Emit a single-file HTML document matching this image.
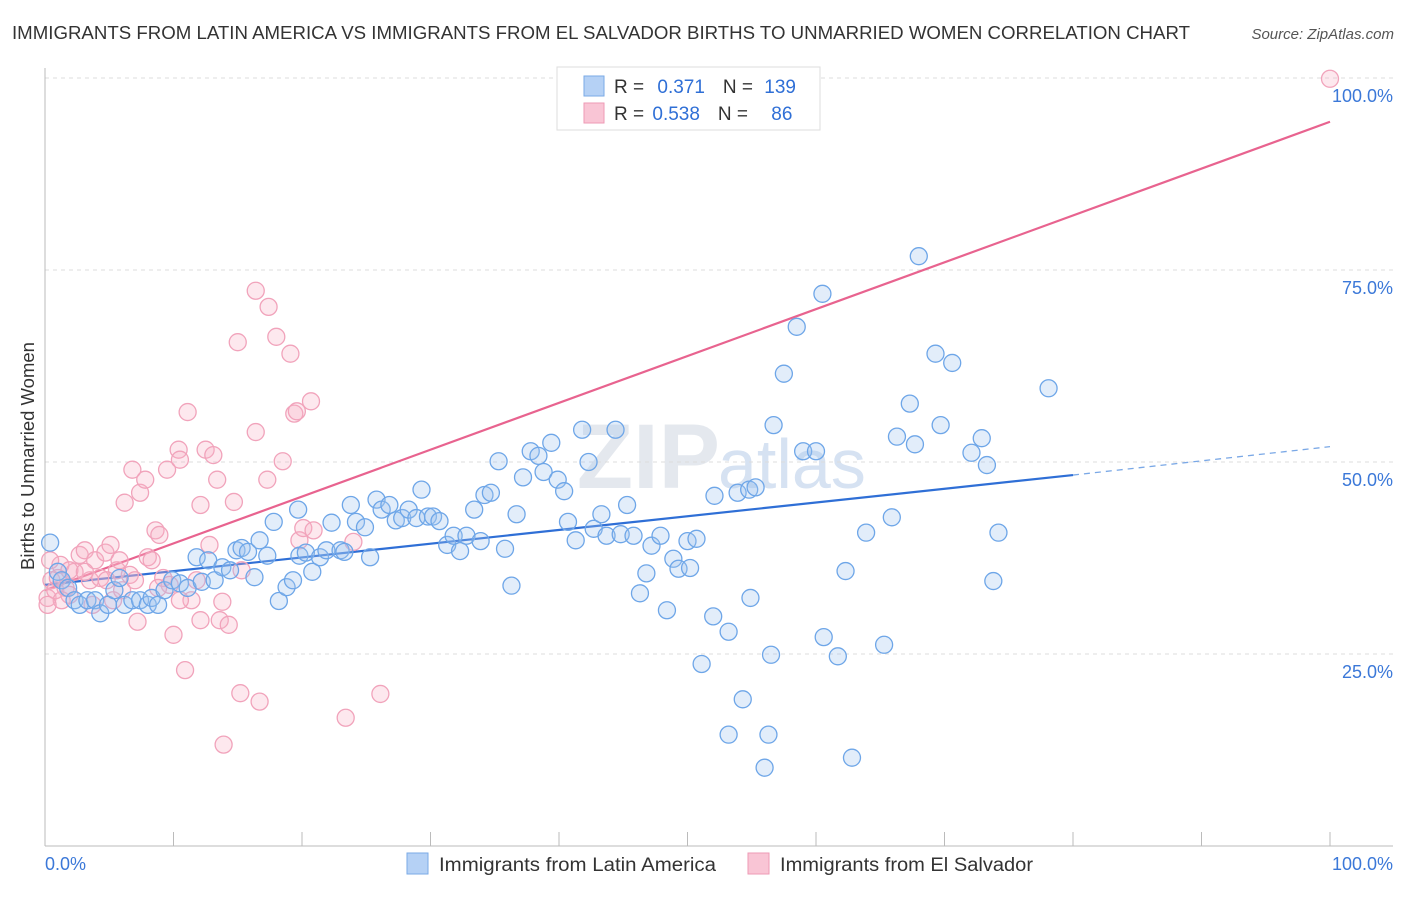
<!DOCTYPE html>
<html><head><meta charset="utf-8">
<style>
body{margin:0;background:#fff;font-family:"Liberation Sans",sans-serif;}
svg text{font-family:"Liberation Sans",sans-serif;}
</style></head>
<body>
<svg id="chart" width="1406" height="892" viewBox="0 0 1406 892">
<text x="12" y="39" font-size="18" fill="#333" textLength="1178" lengthAdjust="spacingAndGlyphs">IMMIGRANTS FROM LATIN AMERICA VS IMMIGRANTS FROM EL SALVADOR BIRTHS TO UNMARRIED WOMEN CORRELATION CHART</text>
<text x="1394" y="39" font-size="15" fill="#555" font-style="italic" text-anchor="end">Source: ZipAtlas.com</text>
<text transform="translate(34,456) rotate(-90)" font-size="18.5" fill="#333" text-anchor="middle">Births to Unmarried Women</text>
<text x="720" y="488" font-size="92" fill="#e4e8ee" text-anchor="end" font-family="Liberation Serif" font-weight="bold">ZIP</text>
<text x="718" y="488" font-size="70" fill="#d6e2f2">atlas</text>
<g id="grid"></g>
<g id="axes"></g>
<g id="lines"></g>
<g id="points"></g>
<g>
<rect x="557" y="67" width="263" height="63" fill="#fff" stroke="#ddd"/>
<rect x="584" y="76" width="20" height="20" fill="#b5d1f5" stroke="#7aaae6"/>
<rect x="584" y="103" width="20" height="20" fill="#f9c5d5" stroke="#ee9ab5"/>
<text x="614" y="93" font-size="19" fill="#333">R = <tspan fill="#2f6fd6" dx="8">0.371</tspan><tspan dx="18">N = </tspan><tspan fill="#2f6fd6" dx="6">139</tspan></text>
<text x="614" y="120" font-size="19" fill="#333">R = <tspan fill="#2f6fd6" dx="3">0.538</tspan><tspan dx="18">N = </tspan><tspan fill="#2f6fd6" dx="18">86</tspan></text>
</g>
<g>
<rect x="407" y="853" width="21" height="21" fill="#b5d1f5" stroke="#7aaae6"/>
<text x="439" y="871" font-size="19" fill="#333" textLength="277" lengthAdjust="spacingAndGlyphs">Immigrants from Latin America</text>
<rect x="748" y="853" width="21" height="21" fill="#f9c5d5" stroke="#ee9ab5"/>
<text x="780" y="871" font-size="19" fill="#333" textLength="253" lengthAdjust="spacingAndGlyphs">Immigrants from El Salvador</text>
</g>
</svg>
<script>
const blueX=[0.4,1.0,1.3,1.8,2.3,2.7,3.3,3.9,4.3,4.9,5.4,5.8,6.2,6.8,7.4,8.0,8.3,8.8,9.3,9.9,10.5,11.1,11.8,12.2,12.7,13.2,13.8,14.4,14.9,15.3,15.8,16.3,16.7,17.3,17.8,18.2,18.8,19.3,19.7,19.8,20.3,20.8,21.4,21.9,22.3,23.0,23.3,23.8,24.2,24.9,25.3,25.8,26.2,26.8,27.3,27.8,28.3,28.9,29.3,29.8,30.2,30.7,31.3,31.8,32.3,32.8,33.4,33.9,34.2,34.7,35.3,35.8,36.3,36.7,37.2,37.8,38.4,38.8,39.4,39.9,40.4,40.7,41.3,41.8,42.3,42.7,43.3,43.7,44.4,44.8,45.3,45.8,46.3,46.8,47.2,47.9,48.4,48.9,49.3,50.0,50.2,50.7,51.1,52.0,52.1,53.2,53.9,54.3,54.8,55.3,54.9,56.3,56.5,57.5,56.7,58.5,59.0,60.0,60.5,60.6,61.7,62.3,62.8,63.9,65.3,65.9,66.3,67.3,67.7,68.0,69.3,69.7,70.6,72.1,72.9,73.3,73.8,74.2,78.1,56.0,53.2];
const blueY=[39.5,35.7,34.6,33.6,32.0,31.4,32.0,32.0,30.3,31.4,33.3,34.9,31.4,32.0,32.0,31.4,32.3,31.4,33.3,34.6,34.2,33.6,37.6,34.4,37.2,34.6,36.3,35.9,38.5,38.8,38.3,35.0,39.8,37.8,42.2,31.9,33.7,34.6,43.8,37.8,38.2,35.7,37.6,38.5,42.1,38.5,38.3,44.4,42.2,41.5,37.6,45.1,43.8,44.4,42.4,42.7,43.8,42.7,46.4,42.9,42.9,42.3,39.2,40.4,38.4,40.4,43.8,39.7,45.7,46.0,50.1,38.7,33.9,43.2,48.0,51.4,50.8,48.7,52.5,47.7,46.2,42.2,39.8,54.2,50.0,41.3,43.2,40.4,54.2,40.6,44.4,40.4,32.9,35.5,39.1,40.4,30.7,37.4,36.1,39.7,36.2,40.0,23.7,29.9,45.6,27.9,46.0,19.1,46.4,46.7,32.3,14.5,24.9,61.5,54.8,67.6,51.4,51.4,71.9,27.2,24.7,35.8,11.5,40.8,26.2,42.8,53.3,57.6,52.3,76.8,64.1,54.8,62.9,51.2,53.1,49.6,34.5,40.8,59.6,10.2,14.5];
const pinkX=[0.2,0.5,0.8,1.2,1.6,1.9,2.3,2.7,3.1,3.5,3.9,4.3,4.7,5.1,5.3,5.6,5.8,6.2,6.6,6.8,7.2,7.4,7.8,8.0,8.3,8.6,8.9,9.2,9.5,9.7,10.0,10.4,10.5,10.9,11.1,11.4,11.8,12.1,12.5,12.8,13.1,13.4,13.6,13.8,13.9,14.3,14.7,15.0,15.2,15.3,16.4,16.4,16.7,17.3,17.4,18.0,18.5,19.1,19.4,19.6,19.8,20.1,20.7,20.9,23.4,24.0,26.1,100,0.4,1.0,1.3,1.9,3.1,3.7,4.8,6.0,7.0,8.8,10.5,12.1,0.2];
const pinkY=[32.3,34.6,33.3,36.6,33.6,32.7,35.7,37.9,38.5,34.6,37.2,34.9,38.2,39.2,32.0,35.9,37.2,44.7,35.3,49.0,29.2,46.0,47.7,37.6,37.2,41.1,40.5,34.9,49.0,34.0,27.5,51.6,50.3,22.9,56.5,32.0,34.6,44.4,51.6,39.2,50.9,47.7,29.4,31.8,13.2,28.8,44.8,65.6,19.9,35.9,53.9,72.3,18.8,47.7,70.2,66.3,50.1,64.1,56.3,56.6,39.8,41.4,57.9,41.1,16.7,39.6,19.8,99.9,37.2,34.9,32.0,35.9,35.7,31.4,34.6,33.3,34.6,33.6,32.0,29.4,31.4];
const blueTrend=[[0,34.0],[80,48.3]];
const blueTrendExt=[[80,48.3],[100,52.0]];
const pinkTrend=[[0,33.3],[100,94.3]];
const yTicks=[25,50,75,100];
const yTickLabels=["25.0%","50.0%","75.0%","100.0%"];
const xTicks=[0,10,20,30,40,50,60,70,80,90,100];

const NS="http://www.w3.org/2000/svg";
const X0=45,X1=1330,Y0=846,Y1=78;
function sx(v){return X0+(X1-X0)*v/100;}
function sy(v){return Y0-(Y0-Y1)*v/100;}
function mk(tag,attrs,parent){const e=document.createElementNS(NS,tag);for(const k in attrs)e.setAttribute(k,attrs[k]);parent.appendChild(e);return e;}
const grid=document.getElementById('grid'),axes=document.getElementById('axes'),lines=document.getElementById('lines'),pts=document.getElementById('points');
yTicks.forEach((t,i)=>{
  const l=mk('line',{x1:X0,x2:1393,y1:sy(t),y2:sy(t),stroke:'#dcdcdc','stroke-dasharray':'4,4'},grid);
  
  
  const tx=mk('text',{x:1393,y:sy(t)+24,'font-size':18,fill:'#3b78d8','text-anchor':'end'},grid);
  tx.textContent=yTickLabels[i];
  
  
});
const ya=mk('line',{x1:X0,x2:X0,y1:68,y2:Y0,stroke:'#bbb'},axes);


const xa=mk('line',{x1:X0,x2:1393,y1:Y0,y2:Y0,stroke:'#bbb'},axes);


xTicks.forEach(t=>{
  const l=mk('line',{x1:sx(t),x2:sx(t),y1:832,y2:Y0,stroke:'#bbb'},axes);
  
  
});
const xl0=mk('text',{x:45,y:870,'font-size':18,fill:'#3b78d8'},axes);xl0.textContent='0.0%';


const xl1=mk('text',{x:1393,y:870,'font-size':18,fill:'#3b78d8','text-anchor':'end'},axes);xl1.textContent='100.0%';



for(let i=0;i<pinkX.length;i++){
  const c=mk('circle',{cx:sx(pinkX[i]),cy:sy(pinkY[i]),r:8.5,fill:'rgba(248,180,200,0.3)',stroke:'#f1a3bb','stroke-width':1.3},pts);
  
  
}
for(let i=0;i<blueX.length;i++){
  const c=mk('circle',{cx:sx(blueX[i]),cy:sy(blueY[i]),r:8.5,fill:'rgba(160,196,240,0.3)',stroke:'#6ea6e8','stroke-width':1.3},pts);
  
  
}
const pl=mk('line',{x1:sx(pinkTrend[0][0]),y1:sy(pinkTrend[0][1]),x2:sx(pinkTrend[1][0]),y2:sy(pinkTrend[1][1]),stroke:'#e8638f','stroke-width':2.2},lines);


const bl=mk('line',{x1:sx(blueTrend[0][0]),y1:sy(blueTrend[0][1]),x2:sx(blueTrend[1][0]),y2:sy(blueTrend[1][1]),stroke:'#2f6fd6','stroke-width':2.2},lines);


const bd=mk('line',{x1:sx(blueTrendExt[0][0]),y1:sy(blueTrendExt[0][1]),x2:sx(blueTrendExt[1][0]),y2:sy(blueTrendExt[1][1]),stroke:'#7aa8e6','stroke-width':1.3,'stroke-dasharray':'6,5'},lines);


</script>
</body></html>
